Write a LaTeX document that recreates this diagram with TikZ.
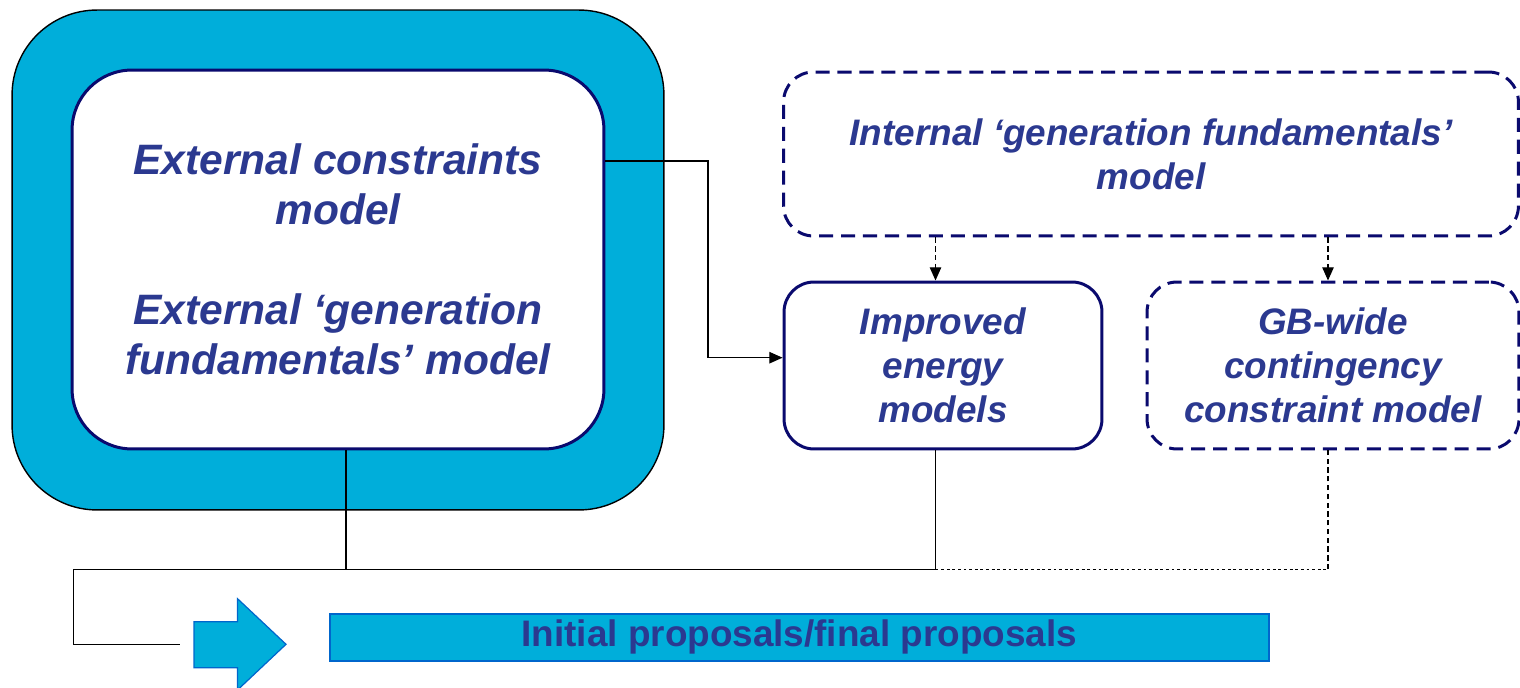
\documentclass[tikz,border=0pt]{standalone}
\usepackage{fontspec}
\setmainfont{Liberation Sans}
\usetikzlibrary{calc,arrows.meta}
\definecolor{boxcyan}{RGB}{0,174,218}
\definecolor{navy}{RGB}{10,10,110}
\definecolor{txtblue}{RGB}{43,57,144}
\definecolor{bannerline}{RGB}{0,102,204}
\tikzset{
  outerbox/.style={draw=black, line width=0.8pt, fill=boxcyan, rounded corners=1.7cm, inner sep=0pt},
  innerbox/.style={draw=navy, line width=1.7pt, fill=white, rounded corners=1.2cm, inner sep=0pt,
    align=center, text=txtblue, font=\bfseries\itshape\fontsize{24.2}{28.5}\selectfont},
  modelbox/.style={draw=navy, line width=1.7pt, fill=white, rounded corners=0.6cm, inner sep=0pt,
    align=center, text=txtblue, font=\bfseries\itshape\fontsize{21}{25.2}\selectfont},
  dashbox/.style={modelbox, dash pattern=on 8pt off 4.5pt},
  conn/.style={draw=black, line width=0.7pt},
  dconn/.style={conn, dash pattern=on 3pt off 2pt},
  dotconn/.style={draw=black, line width=0.9pt, dash pattern=on 1.6pt off 1.6pt},
  tip/.style={-{Triangle[length=7.5pt,width=6.5pt]}},
  banner/.style={draw=bannerline, line width=1.2pt, fill=boxcyan, inner sep=0pt,
    text=txtblue, font=\bfseries\fontsize{21}{25}\selectfont},
  blockarrow/.style={draw=bannerline, line width=0.7pt, fill=boxcyan}
}
\begin{document}
\begin{tikzpicture}[x=0.02cm,y=-0.02cm]
\useasboundingbox (0,0) rectangle (1520,688);

% left nested boxes
\node[outerbox, minimum width=13.04cm, minimum height=10cm] (outer) at (338,260) {};
\node[innerbox, minimum width=10.64cm, minimum height=7.58cm] (inner) at (338,259.5)
  {External constraints\\model\\[28.5pt]External ‘generation\\fundamentals’ model};

% right boxes
\node[dashbox, minimum width=14.7cm, minimum height=3.28cm] (int) at (1151,154)
  {Internal ‘generation fundamentals’\\model};
\node[modelbox, minimum width=6.36cm, minimum height=3.34cm] (imp) at (943,365.5)
  {Improved\\energy\\models};
\node[dashbox, minimum width=7.44cm, minimum height=3.34cm] (gb) at (1333,365.5)
  {GB-wide\\contingency\\constraint model};

% banner and block arrow
\node[banner, minimum width=18.79cm, minimum height=0.934cm] (ban) at (799.3,637.4)
  {Initial proposals/final proposals};
\draw[blockarrow] (194,621.7) -- (237.5,621.7) -- (237.5,598.7) -- (286,644.3)
  -- (237.5,690) -- (237.5,667.7) -- (194,667.7) -- cycle;

% connectors
\coordinate (ia) at ($(imp.north)+(-7.5,0)$);
\coordinate (ga) at ($(gb.north)+(-5,0)$);
\draw[dconn, tip] (ia |- int.south) -- (ia);
\draw[dconn, tip] (ga |- int.south) -- (ga);

\coordinate (ie) at ($(inner.east)+(0,-98.5)$);
\coordinate (ij) at ($(imp.west)+(0,-7.8)$);
\draw[conn, tip] (ie) -- (708,161) |- (ij);

\coordinate (bus) at (73.7,569.3);
\coordinate (ib) at ($(inner.south)+(8,0)$);
\coordinate (mb) at ($(imp.south)+(-7.5,0)$);
\coordinate (gbb) at ($(gb.south)+(-5,0)$);
\coordinate (lineend) at (180,644.3);
\draw[conn] (ib) -- (ib |- bus);
\draw[conn] (mb) -- (mb |- bus);
\draw[conn, line width=0.9pt] (mb |- bus) -- (bus) |- (lineend);
\draw[dotconn] (mb |- bus) -- (gbb |- bus);
\draw[dconn] (gbb |- bus) -- (gbb);
\end{tikzpicture}
\end{document}
